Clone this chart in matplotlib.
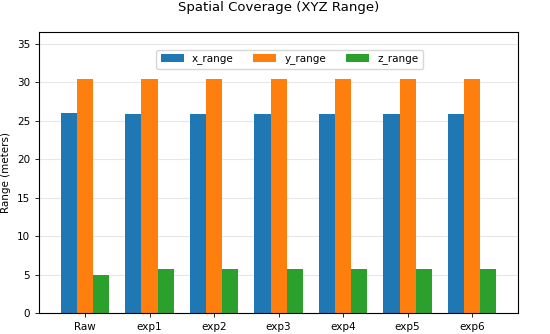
import numpy as np
import matplotlib.pyplot as plt

labels = ["Raw", "exp1", "exp2", "exp3", "exp4", "exp5", "exp6"]
x_range = [26.0, 25.9, 25.9, 25.9, 25.9, 25.95, 25.9]
y_range = [30.5, 30.5, 30.5, 30.5, 30.5, 30.5, 30.5]
z_range = [5.0, 5.75, 5.72, 5.75, 5.72, 5.75, 5.75]

fig, ax = plt.subplots(figsize=(5.5, 3.34), dpi=100)
pos = np.arange(len(labels))
w = 0.25
ax.bar(pos - w, x_range, w, label="x_range", color="#1f77b4")
ax.bar(pos, y_range, w, label="y_range", color="#ff7f0e")
ax.bar(pos + w, z_range, w, label="z_range", color="#2ca02c")

ax.set_xticks(pos)
ax.set_xticklabels(labels)
ax.tick_params(labelsize=7.5, length=3, width=0.6)
ax.set_ylabel("Range (meters)", fontsize=7.5, labelpad=4)
ax.set_ylim(0, max(y_range) * 1.2)
ax.set_title("Spatial Coverage (XYZ Range)", fontsize=9.5, pad=15)
ax.yaxis.grid(True, alpha=0.3)
ax.set_axisbelow(True)
ax.legend(loc="upper center", bbox_to_anchor=(0.523, 0.955), ncol=3, fontsize=7.5,
          handlelength=2.2, columnspacing=1.9)

plt.subplots_adjust(left=0.071, right=0.942, top=0.905, bottom=0.063)
plt.savefig("out.png")
